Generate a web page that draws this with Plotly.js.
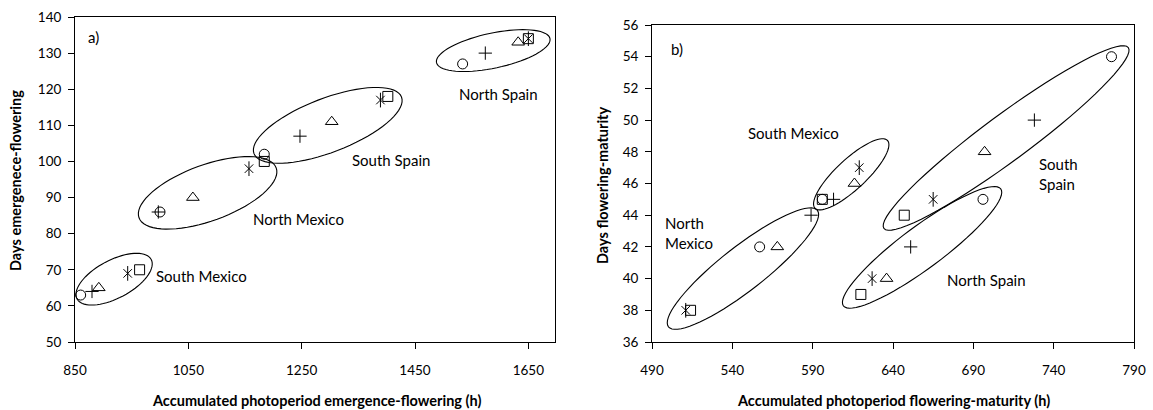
<!DOCTYPE html>
<html>
<head>
<meta charset="utf-8">
<script src="https://cdn.plot.ly/plotly-3.0.1.min.js"></script>
<style>
  html, body { margin: 0; padding: 0; background: #fff; }
  #chart { width: 1153px; height: 410px; }
</style>
</head>
<body>
<div id="chart"></div>
<script>
// Environment order: South Mexico, North Mexico, South Spain, North Spain
const environments = ["South Mexico", "North Mexico", "South Spain", "North Spain"];

// Panel a) accumulated photoperiod emergence-flowering (h) vs days emergence-flowering
const aCircleX   = [860, 1000, 1184, 1534];
const aCircleY   = [63, 86, 102, 127];
const aPlusX     = [880, 997, 1247, 1574];
const aPlusY     = [64, 86, 107, 130];
const aTriangleX = [892, 1058, 1303, 1632];
const aTriangleY = [65, 90, 111, 133];
const aStarX     = [943, 1157, 1389, 1650];
const aStarY     = [69, 98, 117, 134];
const aSquareX   = [964, 1184, 1402, 1650];
const aSquareY   = [70, 100, 118, 134];

// Panel b) accumulated photoperiod flowering-maturity (h) vs days flowering-maturity
const bCircleX   = [596, 557, 776, 696];
const bCircleY   = [45, 42, 54, 45];
const bPlusX     = [603, 589, 728, 651];
const bPlusY     = [45, 44, 50, 42];
const bTriangleX = [616, 568, 697, 636];
const bTriangleY = [46, 42, 48, 40];
const bStarX     = [619, 511, 665, 627];
const bStarY     = [47, 38, 45, 40];
const bSquareX   = [596, 514, 647, 620];
const bSquareY   = [45, 38, 44, 39];

// Tick values
const aXTicks = [850, 1050, 1250, 1450, 1650];
const aYTicks = [50, 60, 70, 80, 90, 100, 110, 120, 130, 140];
const bXTicks = [490, 540, 590, 640, 690, 740, 790];
const bYTicks = [36, 38, 40, 42, 44, 46, 48, 50, 52, 54, 56];

const W = 1153, H = 410;
const FONT = "Lato, 'Open Sans', sans-serif";

// Layout geometry (pixels)
const aDom = {x0: 75, x1: 555, y0: 17, y1: 342, xr: [850, 1697], yr: [50, 140]};
const bDom = {x0: 652, x1: 1134, y0: 25, y1: 342, xr: [490, 790], yr: [36, 56]};

function ellipsePath(dom, cx, cy, a, b, angDeg) {
  const pxX = (dom.x1 - dom.x0) / (dom.xr[1] - dom.xr[0]);
  const pxY = (dom.y1 - dom.y0) / (dom.yr[1] - dom.yr[0]);
  const th = angDeg * Math.PI / 180;
  let p = "";
  const N = 72;
  for (let i = 0; i <= N; i++) {
    const t = 2 * Math.PI * i / N;
    const dx = a * Math.cos(t) * Math.cos(th) - b * Math.sin(t) * Math.sin(th);
    const dy = a * Math.cos(t) * Math.sin(th) + b * Math.sin(t) * Math.cos(th);
    const x = cx + dx / pxX, y = cy + dy / pxY;
    p += (i === 0 ? "M" : "L") + x.toFixed(3) + "," + y.toFixed(3);
  }
  return p + "Z";
}

function series(x, y, symbol, size, xa, ya) {
  return {
    type: "scatter", mode: "markers", x: x, y: y, xaxis: xa, yaxis: ya,
    showlegend: false, hoverinfo: "x+y",
    marker: {symbol: symbol, size: size, color: "#000", line: {color: "#000", width: 1}}
  };
}

const traces = [
  series(aCircleX, aCircleY, "circle-open", 10, "x", "y"),
  series(aPlusX, aPlusY, "cross-thin-open", 9.5, "x", "y"),
  series(aTriangleX, aTriangleY, "triangle-up-open", 11, "x", "y"),
  series(aStarX, aStarY, "x-thin-open", 8.5, "x", "y"),
  series(aStarX, aStarY, "line-ns-open", 10.5, "x", "y"),
  series(aSquareX, aSquareY, "square-open", 10, "x", "y"),
  series(bCircleX, bCircleY, "circle-open", 10, "x2", "y2"),
  series(bPlusX, bPlusY, "cross-thin-open", 9.5, "x2", "y2"),
  series(bTriangleX, bTriangleY, "triangle-up-open", 11, "x2", "y2"),
  series(bStarX, bStarY, "x-thin-open", 8.5, "x2", "y2"),
  series(bStarX, bStarY, "line-ns-open", 10.5, "x2", "y2"),
  series(bSquareX, bSquareY, "square-open", 10, "x2", "y2")
];

function axis(dom, horiz, range, ticks, anchor) {
  const o = {
    range: range, autorange: false, fixedrange: true,
    tickmode: "array", tickvals: ticks,
    ticks: "outside", ticklen: 6, tickwidth: 1, tickcolor: "#000",
    showline: true, linecolor: "#000", linewidth: 1, mirror: true,
    showgrid: false, zeroline: false, anchor: anchor,
    tickfont: {family: FONT, size: 13.5, color: "#000"},
    automargin: false
  };
  if (horiz) {
    o.domain = [dom.x0 / W, dom.x1 / W];
    o.ticklabelstandoff = 10;
  } else {
    o.domain = [1 - dom.y1 / H, 1 - dom.y0 / H];
    o.ticklabelstandoff = 4;
  }
  return o;
}

const ellStyle = {type: "path", line: {color: "#000", width: 1.1}, fillcolor: "rgba(0,0,0,0)", layer: "above"};
const shapes = [
  Object.assign({xref: "x", yref: "y", path: ellipsePath(aDom, 919, 67.4, 42, 19, 28)}, ellStyle),
  Object.assign({xref: "x", yref: "y", path: ellipsePath(aDom, 1084, 91.3, 73, 28, 20)}, ellStyle),
  Object.assign({xref: "x", yref: "y", path: ellipsePath(aDom, 1296, 110, 79, 27, 21)}, ellStyle),
  Object.assign({xref: "x", yref: "y", path: ellipsePath(aDom, 1588, 130.7, 58, 17.5, 12)}, ellStyle),
  Object.assign({xref: "x2", yref: "y2", path: ellipsePath(bDom, 546.6, 40.63, 94.5, 22, 38)}, ellStyle),
  Object.assign({xref: "x2", yref: "y2", path: ellipsePath(bDom, 614, 46.58, 49.6, 15, 43)}, ellStyle),
  Object.assign({xref: "x2", yref: "y2", path: ellipsePath(bDom, 710.4, 48.87, 152, 23, 36.5)}, ellStyle),
  Object.assign({xref: "x2", yref: "y2", path: ellipsePath(bDom, 658.1, 41.97, 98, 21, 36.6)}, ellStyle)
];

function lab(text, x, y, xref, yref, xanchor, align) {
  return {text: text, x: x, y: y, xref: xref, yref: yref, showarrow: false,
          xanchor: xanchor || "center", yanchor: "middle", align: align || "center",
          font: {family: FONT, size: 15, color: "#000"}};
}

const TITLE_FONT = {family: FONT, size: 14.5, color: "#000"};
const annotations = [
  lab("a)", 870, 134.4, "x", "y", "left"),
  lab("North Spain", 1598, 118.6, "x", "y"),
  lab("South Spain", 1408, 100.5, "x", "y"),
  lab("North Mexico", 1245, 84.1, "x", "y"),
  lab("South Mexico", 1073, 68.2, "x", "y"),
  lab("b)", 500.7, 54.5, "x2", "y2", "left"),
  lab("South Mexico", 578, 49.2, "x2", "y2"),
  lab("North<br>Mexico", 496.8, 42.9, "x2", "y2", "left", "left"),
  lab("South<br>Spain", 729.4, 46.6, "x2", "y2", "left", "left"),
  lab("North Spain", 698, 39.9, "x2", "y2"),
  // axis titles
  {text: "<b>Accumulated photoperiod emergence-flowering (h)</b>", x: 316 / W, y: 1 - 400 / H,
   xref: "paper", yref: "paper", showarrow: false, xanchor: "center", yanchor: "middle",
   font: TITLE_FONT},
  {text: "<b>Accumulated photoperiod flowering-maturity (h)</b>", x: 893 / W, y: 1 - 400 / H,
   xref: "paper", yref: "paper", showarrow: false, xanchor: "center", yanchor: "middle",
   font: TITLE_FONT},
  {text: "<b>Days emergenece-flowering</b>", x: 16 / W, y: 1 - 181 / H, textangle: -90,
   xref: "paper", yref: "paper", showarrow: false, xanchor: "center", yanchor: "middle",
   font: TITLE_FONT},
  {text: "<b>Days flowering-maturity</b>", x: 603 / W, y: 1 - 185 / H, textangle: -90,
   xref: "paper", yref: "paper", showarrow: false, xanchor: "center", yanchor: "middle",
   font: TITLE_FONT}
];

const layout = {
  width: W, height: H,
  margin: {l: 0, r: 0, t: 0, b: 0, pad: 0},
  paper_bgcolor: "#fff", plot_bgcolor: "#fff",
  showlegend: false,
  xaxis: axis(aDom, true, aDom.xr, aXTicks, "y"),
  yaxis: axis(aDom, false, aDom.yr, aYTicks, "x"),
  xaxis2: axis(bDom, true, bDom.xr, bXTicks, "y2"),
  yaxis2: axis(bDom, false, bDom.yr, bYTicks, "x2"),
  shapes: shapes,
  annotations: annotations,
  font: {family: FONT, color: "#000"}
};

Plotly.newPlot("chart", traces, layout, {displayModeBar: false, staticPlot: true});
</script>
</body>
</html>
